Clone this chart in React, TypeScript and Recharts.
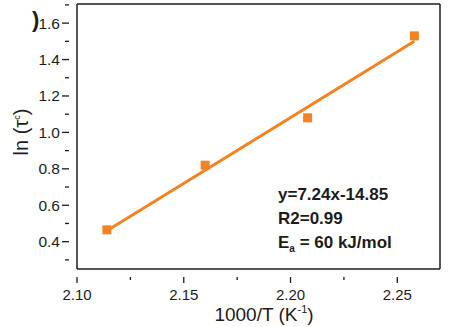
import React from 'react';
import { ScatterChart, Scatter, XAxis, YAxis, ReferenceLine } from 'recharts';

// measured points
const tempInv = [2.114, 2.16, 2.208, 2.258];
const lnTau = [0.465, 0.82, 1.08, 1.53];
// linear fit y=7.24x-14.85, end points
const fitX = [2.114, 2.258];
const fitY = [0.46, 1.5];

const xTicks = [2.1, 2.125, 2.15, 2.175, 2.2, 2.225, 2.25];
const xMajor = ['2.10', '2.15', '2.20', '2.25'];
const yTicks = [0.3, 0.4, 0.5, 0.6, 0.7, 0.8, 0.9, 1.0, 1.1, 1.2, 1.3, 1.4, 1.5, 1.6, 1.7];
const yMajor = ['0.4', '0.6', '0.8', '1.0', '1.2', '1.4', '1.6'];

const notes = ['y=7.24x-14.85', 'R2=0.99'];

const points = tempInv.map((x, i) => ({ x, y: lnTau[i] }));
const fit = fitX.map((x, i) => ({ x, y: fitY[i] }));

const ORANGE = '#f58220';
const INK = '#1c1c1c';
const FONT = '"Liberation Sans", Arial, sans-serif';

const XTick = (props: any) => {
  const { x, y, payload } = props;
  const label = payload.value.toFixed(2);
  const major = xMajor.includes(label);
  return (
    <g>
      <line x1={x} x2={x} y1={y} y2={y + (major ? 6 : 3)} stroke={INK} strokeWidth={1.3} />
      {major && (
        <text x={x} y={y + 23} textAnchor="middle" fontSize={15} fill={INK} fontFamily={FONT}>{label}</text>
      )}
    </g>
  );
};

const YTick = (props: any) => {
  const { x, y, payload } = props;
  const label = payload.value.toFixed(1);
  const major = yMajor.includes(label);
  return (
    <g>
      <line x1={x} x2={x - (major ? 7 : 4)} y1={y} y2={y} stroke={INK} strokeWidth={1.3} />
      {major && (
        <text x={x - 9} y={y + 5.5} textAnchor="end" fontSize={15.5} fill={INK} fontFamily={FONT}>{label}</text>
      )}
    </g>
  );
};

const Square = (props: any) => {
  const { cx, cy } = props;
  return <rect x={cx - 4.5} y={cy - 4.5} width={9} height={9} fill={ORANGE} />;
};

export default function App() {
  return (
    <div style={{ position: 'absolute', left: 0, top: 0, width: 451, height: 327, background: '#fff', fontFamily: FONT }}>
      <ScatterChart width={451} height={327} margin={{ top: 4, right: 11, bottom: 0, left: 0 }}>
        <XAxis
          type="number"
          dataKey="x"
          domain={[2.1, 2.27]}
          ticks={xTicks}
          interval={0}
          tick={<XTick />}
          tickLine={false}
          axisLine={{ stroke: INK, strokeWidth: 1.5 }}
          height={58}
          allowDataOverflow
        />
        <YAxis
          type="number"
          dataKey="y"
          domain={[0.25, 1.705]}
          ticks={yTicks}
          interval={0}
          tick={<YTick />}
          tickLine={false}
          axisLine={{ stroke: INK, strokeWidth: 1.5 }}
          width={77}
          allowDataOverflow
        />
        <ReferenceLine y={1.705} stroke={INK} strokeWidth={1.5} />
        <ReferenceLine x={2.27} stroke={INK} strokeWidth={1.5} />
        <Scatter data={fit} line={{ stroke: ORANGE, strokeWidth: 3 }} shape={() => null} isAnimationActive={false} />
        <Scatter data={points} shape={<Square />} isAnimationActive={false} />
      </ScatterChart>

      <div style={{ position: 'absolute', left: 0, top: 0, width: 451, height: 327, pointerEvents: 'none', color: INK }}>
        <div style={{ position: 'absolute', left: 32, top: 8, fontSize: 22, fontWeight: 'bold', lineHeight: '24px' }}>)</div>
        <div
          style={{
            position: 'absolute', left: 21, top: 132, transform: 'translate(-50%, -50%) rotate(-90deg)',
            fontSize: 20, lineHeight: '20px', whiteSpace: 'nowrap',
          }}
        >
          ln (τ<sup style={{ fontSize: 9, lineHeight: 0 }}>c</sup>)
        </div>
        <div
          style={{
            position: 'absolute', left: 264, top: 314, transform: 'translate(-50%, -50%)',
            fontSize: 19, lineHeight: '19px', whiteSpace: 'nowrap',
          }}
        >
          1000/T (K<sup style={{ fontSize: 11, lineHeight: 0 }}>-1</sup>)
        </div>
        <div style={{ position: 'absolute', left: 278, top: 183, fontSize: 17, fontWeight: 'bold', lineHeight: '24px', whiteSpace: 'nowrap' }}>
          {notes.map(n => <div key={n}>{n}</div>)}
          <div>E<sub style={{ fontSize: 10, lineHeight: 0 }}>a</sub> = 60 kJ/mol</div>
        </div>
      </div>
    </div>
  );
}
